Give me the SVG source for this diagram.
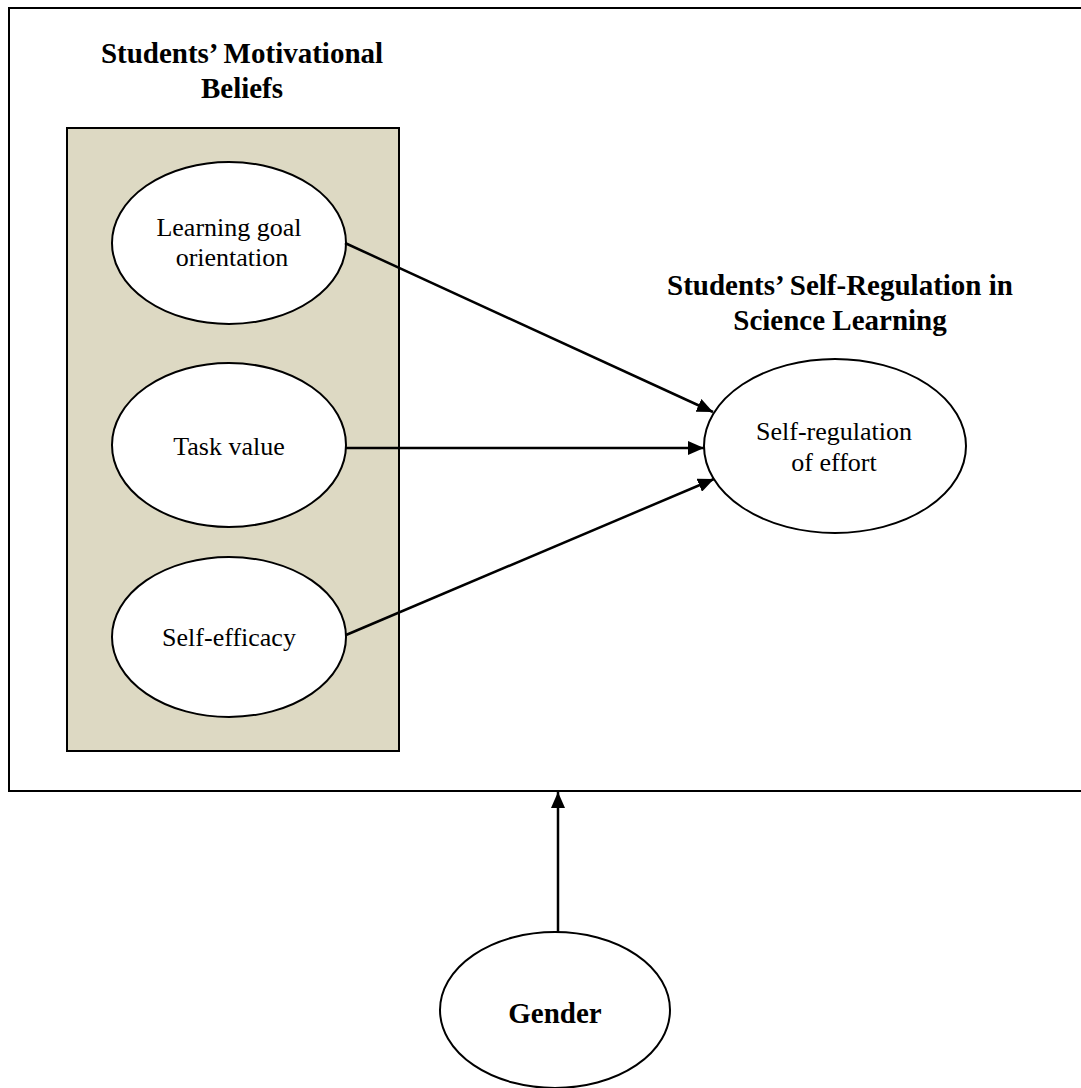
<svg xmlns="http://www.w3.org/2000/svg" width="1081" height="1088" viewBox="0 0 1081 1088">
<style>
.title{font-family:"Liberation Serif","Times New Roman",serif;font-weight:bold;font-size:29px;fill:#000;text-anchor:middle}
.lbl{font-family:"Liberation Serif","Times New Roman",serif;font-size:26px;fill:#000;text-anchor:middle}
.node{fill:#fff;stroke:#000;stroke-width:2}
.conn{stroke:#000;stroke-width:2.5;fill:none;marker-end:url(#arr)}
</style>
<defs>
<marker id="arr" markerUnits="userSpaceOnUse" markerWidth="18" markerHeight="14" refX="16" refY="7" orient="auto">
<path d="M0,0 L16,7 L0,14 Z" fill="#000"/>
</marker>
</defs>
<rect width="1081" height="1088" fill="#fff"/>
<g id="frame">
<rect x="9" y="8" width="1090" height="783" fill="#fff" stroke="#000" stroke-width="2"/>
</g>
<g id="motivational-beliefs">
<text class="title" x="242" y="63">Students’ Motivational</text>
<text class="title" x="242" y="98">Beliefs</text>
<rect x="67" y="128" width="332" height="623" fill="#DDD9C3" stroke="#000" stroke-width="2"/>
</g>
<g id="learning-goal">
<ellipse class="node" cx="229" cy="243" rx="117" ry="81"/>
<text class="lbl" x="229" y="236">Learning goal</text>
<text class="lbl" x="232" y="266">orientation</text>
</g>
<g id="task-value">
<ellipse class="node" cx="229" cy="445" rx="117" ry="82"/>
<text class="lbl" x="229" y="455">Task value</text>
</g>
<g id="self-efficacy">
<ellipse class="node" cx="229" cy="637" rx="117" ry="80"/>
<text class="lbl" x="229" y="646">Self-efficacy</text>
</g>
<g id="self-regulation">
<text class="title" x="840" y="295">Students’ Self-Regulation in</text>
<text class="title" x="840" y="330">Science Learning</text>
<ellipse class="node" cx="835" cy="446" rx="131" ry="87"/>
<text class="lbl" x="834" y="440">Self-regulation</text>
<text class="lbl" x="834" y="471">of effort</text>
</g>
<g id="gender">
<ellipse class="node" cx="555" cy="1010" rx="115" ry="78"/>
<text class="title" x="555" y="1023">Gender</text>
</g>
<g id="connectors">
<line class="conn" x1="345" y1="243" x2="713" y2="412"/>
<line class="conn" x1="346" y1="448" x2="704" y2="448"/>
<line class="conn" x1="346" y1="635" x2="714" y2="479"/>
<line class="conn" x1="558" y1="932" x2="558" y2="792"/>
</g>
</svg>
